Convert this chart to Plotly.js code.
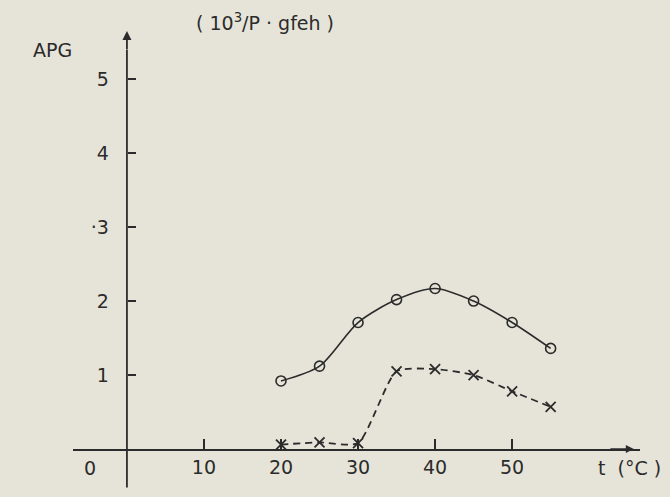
<!DOCTYPE html>
<html><head><meta charset="utf-8">
<script src="https://cdn.plot.ly/plotly-3.0.1.min.js"></script>
<style>html,body{margin:0;padding:0;background:#e6e4d9;}</style>
</head><body><div id="chart" style="width:670px;height:497px;"></div>
<script>
const temps = [20, 25, 30, 35, 40, 45, 50, 55];
const apgSolid = [0.92, 1.12, 1.71, 2.02, 2.17, 2.0, 1.71, 1.36];
const apgDashed = [0.06, 0.09, 0.08, 1.05, 1.08, 1.0, 0.78, 0.57];
const xTickVals = [10, 20, 30, 40, 50];
const xTickText = ['10', '20', '30', '40', '50'];
const yTickVals = [1, 2, 3, 4, 5];
const yTickText = ['1', '2', '·3', '4', '5'];

const ink = '#2b2b2b';
const font = {family: 'DejaVu Sans, sans-serif', size: 19, color: ink};

const traces = [
  {x: temps, y: apgSolid, mode: 'lines+markers', line: {color: ink, width: 1.6, shape: 'spline', smoothing: 0.8},
   marker: {symbol: 'circle-open', size: 10, color: ink, line: {width: 1.6, color: ink}}, cliponaxis: false},
  {x: temps, y: apgDashed, mode: 'lines+markers', line: {color: ink, width: 1.8, dash: '7px,5px', shape: 'spline', smoothing: 0.6},
   marker: {symbol: 'x-thin-open', size: 10, color: ink, line: {width: 1.8, color: ink}}, cliponaxis: false}
];

const layout = {
  width: 670, height: 497,
  margin: {l: 73, r: 30, t: 20, b: 48},
  paper_bgcolor: '#e6e4d9', plot_bgcolor: '#e6e4d9',
  showlegend: false,
  font: font,
  xaxis: {range: [-7, 66.6], tickvals: xTickVals, ticktext: xTickText, ticks: 'inside', ticklen: 10,
          tickcolor: ink, tickwidth: 1.5, showline: true, linecolor: ink, linewidth: 1.8,
          showgrid: false, zeroline: false, tickfont: font},
  yaxis: {range: [0, 5.8], tickvals: yTickVals, ticktext: yTickText, ticks: 'inside', ticklen: 8,
          tickcolor: ink, tickwidth: 1.5, showline: false,
          showgrid: false, zeroline: false, anchor: 'free', position: 7 / 73.6,
          ticklabelstandoff: 18, tickfont: font},
  shapes: [
    {type: 'line', xref: 'x', yref: 'paper', x0: 0, x1: 0, y0: -0.09, y1: 0.93, line: {color: ink, width: 1.8}}
  ],
  annotations: [
    {xref: 'x', yref: 'y', x: 0, y: 5.65, ax: 0, ay: 20, text: '', showarrow: true, arrowhead: 2, arrowsize: 1, arrowwidth: 1.8, arrowcolor: ink},
    {xref: 'x', yref: 'y', x: 65.8, y: 0, ax: -25, ay: 0, text: '', showarrow: true, arrowhead: 2, arrowsize: 1, arrowwidth: 1.6, arrowcolor: ink},
    {xref: 'x', yref: 'paper', x: -4.8, y: 0, yanchor: 'top', yshift: -6, text: '0', showarrow: false, font: font},
    {xref: 'x', yref: 'paper', x: 65.3, y: 0, yanchor: 'top', yshift: -6, text: 't  (°C )', showarrow: false, font: font},
    {xref: 'paper', yref: 'paper', x: -0.037, y: 0.93, xanchor: 'center', yanchor: 'middle', text: 'APG', showarrow: false, font: font},
    {xref: 'x', yref: 'paper', x: 17.9, y: 0.995, xanchor: 'center', yanchor: 'middle', text: '( 10<sup>3</sup>/P · gfeh )', showarrow: false,
     font: {family: font.family, size: 19, color: ink}}
  ]
};

Plotly.newPlot('chart', traces, layout, {displayModeBar: false, staticPlot: true});
</script>
</body></html>
